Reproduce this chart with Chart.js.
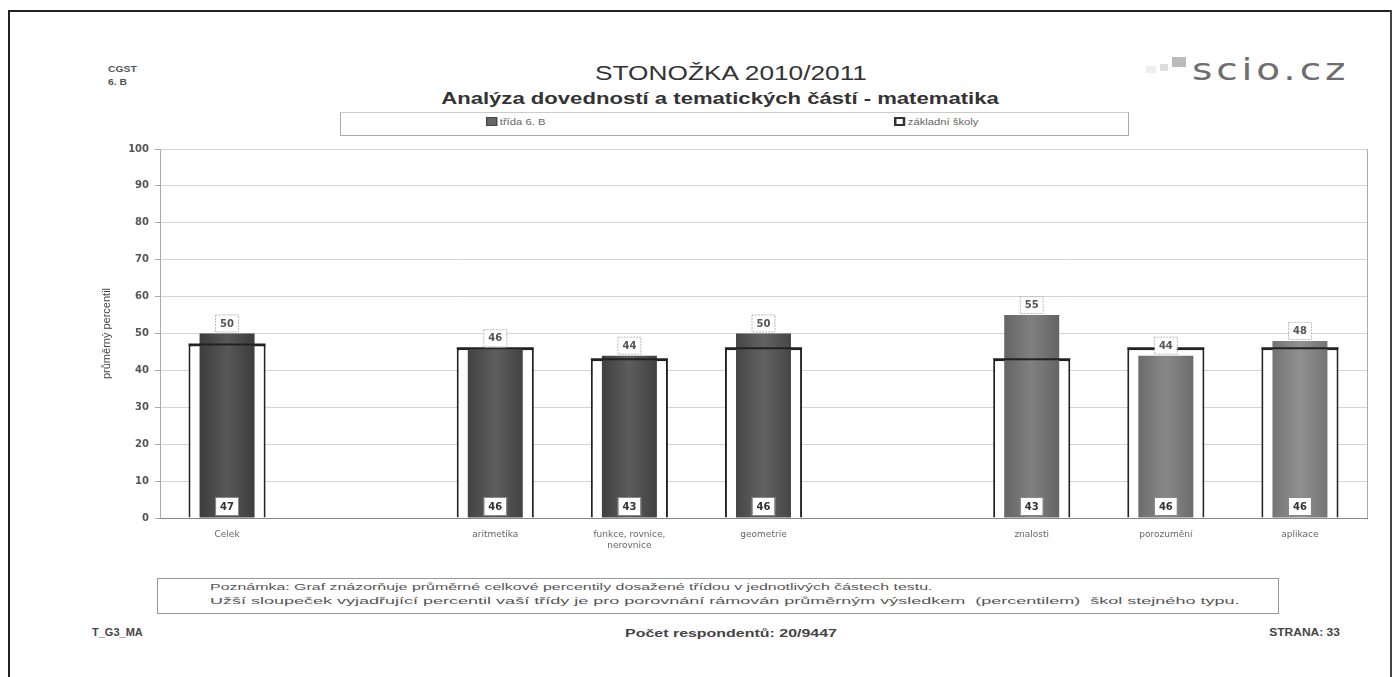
<!DOCTYPE html>
<html lang="cs">
<head>
    <meta charset="UTF-8">
    <title>STONOŽKA 2010/2011</title>
    <script src="https://cdn.jsdelivr.net/npm/chart.js"></script>
    <style>
        body {
            margin: 0;
            width: 1394px;
            height: 677px;
            background: #fff;
            font-family: Arial, 'Liberation Sans', sans-serif;
            position: relative;
            overflow: hidden;
        }
        .frame-top { position: absolute; left: 8px; top: 10px; width: 1384px; height: 2px; background: #222; }
        .frame-left { position: absolute; left: 8px; top: 10px; width: 2px; height: 667px; background: #222; }
        .frame-right { position: absolute; left: 1390px; top: 10px; width: 2px; height: 667px; background: #444; }
        .abs { position: absolute; white-space: pre; }
        .school { left: 108px; top: 63px; font-size: 9px; font-weight: bold; color: #555; line-height: 13px; transform: scaleX(1.15); transform-origin: left; }
        .title { left: 0; width: 1462px; top: 61px; text-align: center; font-size: 21px; color: #333; transform: scaleX(1.25); transform-origin: 731px 0; }
        .subtitle { left: 0; width: 1440px; top: 89px; text-align: center; font-size: 17px; font-weight: bold; color: #333; transform: scaleX(1.3); transform-origin: 720px 0; }
        .logo { left: 1192px; top: 52px; font-family: 'DejaVu Sans', sans-serif; font-size: 30px; color: #6e6e6e; letter-spacing: 3px; transform: scaleX(1.3); transform-origin: left; }
        .sq { position: absolute; background: #bbb; }
        .legend-box { left: 340px; top: 112px; width: 787px; height: 22px; border: 1px solid #aaa; border-top-color: #ccc; }
        .legend-item { top: 117px; font-size: 9px; color: #666; transform: scaleX(1.25); transform-origin: left; }
        .sw { display: inline-block; width: 7px; height: 7px; margin-right: 2px; vertical-align: -1px; }
        .note-box { left: 157px; top: 578px; width: 1120px; height: 34px; border: 1px solid #999; }
        .note { left: 210px; font-size: 9px; color: #555; transform-origin: left; }
        .foot { top: 627px; font-size: 10px; font-weight: bold; color: #444; }
        #wrap { position: absolute; left: 0; top: 130px; width: 1394px; height: 440px; }
    </style>
</head>
<body>
    <div class="frame-top"></div>
    <div class="frame-left"></div>
    <div class="frame-right"></div>

    <div class="abs school">CGST
6. B</div>
    <div class="abs title">STONOŽKA 2010/2011</div>
    <div class="abs subtitle">Analýza dovedností a tematických částí - matematika</div>

    <div class="sq" style="left:1172px; top:57px; width:14px; height:10px;"></div>
    <div class="sq" style="left:1160px; top:64px; width:8px; height:7px; background:#ddd;"></div>
    <div class="sq" style="left:1146px; top:66px; width:10px; height:7px; background:#eee;"></div>
    <div class="abs logo">scio.cz</div>

    <div class="abs legend-box"></div>
    <div class="abs legend-item" style="left:486px;"><span class="sw" style="background:#666; border:1px solid #444;"></span>třída 6. B</div>
    <div class="abs legend-item" style="left:894px;"><span class="sw" style="background:#fff; border:2px solid #333; width:5px; height:5px;"></span>základní školy</div>

    <div id="wrap"><canvas id="chart"></canvas></div>

    <div class="abs note-box"></div>
    <div class="abs note" style="top:582px; transform: scaleX(1.77);">Poznámka: Graf znázorňuje průměrné celkové percentily dosažené třídou v jednotlivých částech testu.</div>
    <div class="abs note" style="top:596px; transform: scaleX(2.0);">Užší sloupeček vyjadřující percentil vaší třídy je pro porovnání rámován průměrným výsledkem  (percentilem)  škol stejného typu.</div>

    <div class="abs foot" style="left:92px; transform: scaleX(1.1); transform-origin:left;">T_G3_MA</div>
    <div class="abs foot" style="left:0; width:1462px; text-align:center; font-size:11px; transform: scaleX(1.45); transform-origin:731px 0;">Počet respondentů: 20/9447</div>
    <div class="abs foot" style="right:54px; transform: scaleX(1.2); transform-origin:right;">STRANA: 33</div>

    <script>
        // categories (empty slots are gaps in the report)
        const categories = ['Celek', '', 'aritmetika', ['funkce, rovnice,', 'nerovnice'], 'geometrie', '', 'znalosti', 'porozumění', 'aplikace'];
        const tridaValues = [50, null, 46, 44, 50, null, 55, 44, 48];
        const skolyValues = [47, null, 46, 43, 46, null, 43, 46, 46];
        const yTicks = [0, 10, 20, 30, 40, 50, 60, 70, 80, 90, 100];

        // base shade of the class bar (scan gets lighter on the right)
        const shades = [78, 0, 84, 82, 88, 0, 118, 126, 134];
        const INNER = 0.41, OUTER = 0.575;

        function barFill(ctx) {
            const chart = ctx.chart;
            const s = shades[ctx.dataIndex] || 90;
            const xs = chart.scales.x;
            if (!chart.chartArea || !xs || !xs.width) return `rgb(${s},${s},${s})`;
            const cx = xs.getPixelForValue(ctx.dataIndex);
            const w = xs.width / categories.length * INNER;
            const g = chart.ctx.createLinearGradient(cx - w / 2, 0, cx + w / 2, 0);
            const d = s - 18, l = s + 10;
            g.addColorStop(0, `rgb(${d},${d},${d})`);
            g.addColorStop(0.5, `rgb(${l},${l},${l})`);
            g.addColorStop(1, `rgb(${d},${d},${d})`);
            return g;
        }

        const labelsPlugin = {
            id: 'valueBoxes',
            afterDatasetsDraw(chart) {
                const c = chart.ctx;
                const inner = chart.getDatasetMeta(0);
                const outer = chart.getDatasetMeta(1);
                const bottom = chart.chartArea.bottom;
                c.save();
                // top edge of the school frame shows over the class bar
                outer.data.forEach((el, i) => {
                    if (skolyValues[i] == null) return;
                    c.strokeStyle = '#222';
                    c.lineWidth = 2;
                    c.beginPath();
                    c.moveTo(el.x - el.width / 2, el.y);
                    c.lineTo(el.x + el.width / 2, el.y);
                    c.stroke();
                });
                c.textAlign = 'center';
                c.textBaseline = 'middle';
                inner.data.forEach((el, i) => {
                    if (tridaValues[i] == null) return;
                    c.fillStyle = '#fff';
                    c.fillRect(el.x - 11, el.y - 18, 22, 17);
                    c.strokeStyle = '#bbb';
                    c.lineWidth = 1;
                    c.setLineDash([2, 1]);
                    c.strokeRect(el.x - 11.5, el.y - 18.5, 23, 17);
                    c.setLineDash([]);
                    c.fillStyle = '#555';
                    c.font = 'bold 10px "DejaVu Sans", sans-serif';
                    c.fillText(tridaValues[i], el.x, el.y - 9.5);
                });
                outer.data.forEach((el, i) => {
                    if (skolyValues[i] == null) return;
                    c.fillStyle = '#fff';
                    c.fillRect(el.x - 11, bottom - 20, 22, 17);
                    c.strokeStyle = '#888';
                    c.lineWidth = 1;
                    c.strokeRect(el.x - 11.5, bottom - 20.5, 23, 18);
                    c.fillStyle = '#333';
                    c.font = 'bold 10px "DejaVu Sans", sans-serif';
                    c.fillText(skolyValues[i], el.x, bottom - 11);
                });
                // plot frame on the right
                c.strokeStyle = '#aaa';
                c.lineWidth = 1;
                c.beginPath();
                c.moveTo(chart.chartArea.right + 0.5, chart.chartArea.top);
                c.lineTo(chart.chartArea.right + 0.5, chart.chartArea.bottom);
                c.stroke();
                c.restore();
            }
        };

        new Chart(document.getElementById('chart'), {
            type: 'bar',
            data: {
                labels: categories,
                datasets: [
                    {
                        label: 'třída 6. B',
                        data: tridaValues,
                        backgroundColor: barFill,
                        borderWidth: 0,
                        grouped: false,
                        categoryPercentage: 1,
                        barPercentage: INNER
                    },
                    {
                        label: 'základní školy',
                        data: skolyValues,
                        backgroundColor: '#fff',
                        borderColor: '#222',
                        borderWidth: 2,
                        grouped: false,
                        categoryPercentage: 1,
                        barPercentage: OUTER
                    }
                ]
            },
            options: {
                responsive: true,
                maintainAspectRatio: false,
                animation: false,
                layout: { padding: { left: 100, right: 27, top: 19, bottom: 2 } },
                plugins: {
                    legend: { display: false },
                    tooltip: { enabled: false }
                },
                scales: {
                    x: {
                        grid: { display: false },
                        border: { color: '#888', width: 1 },
                        ticks: {
                            color: '#666',
                            font: { size: 9, family: '"DejaVu Sans"' },
                            padding: 3,
                            maxRotation: 0,
                            autoSkip: false
                        },
                        afterFit(axis) { axis.height = 50; }
                    },
                    y: {
                        min: 0,
                        max: 100,
                        afterBuildTicks(axis) { axis.ticks = yTicks.map(v => ({ value: v })); },
                        grid: { color: '#d4d4d4', tickLength: 5, tickColor: '#aaa' },
                        border: { color: '#aaa' },
                        ticks: {
                            color: '#555',
                            font: { size: 10, weight: 'bold', family: '"DejaVu Sans"' },
                            padding: 6
                        },
                        title: {
                            display: true,
                            text: 'průměrný percentil',
                            color: '#444',
                            font: { size: 11, family: 'Arial' },
                            padding: 0
                        },
                        afterFit(axis) { axis.width = 60; }
                    }
                }
            },
            plugins: [labelsPlugin]
        });
    </script>
</body>
</html>
